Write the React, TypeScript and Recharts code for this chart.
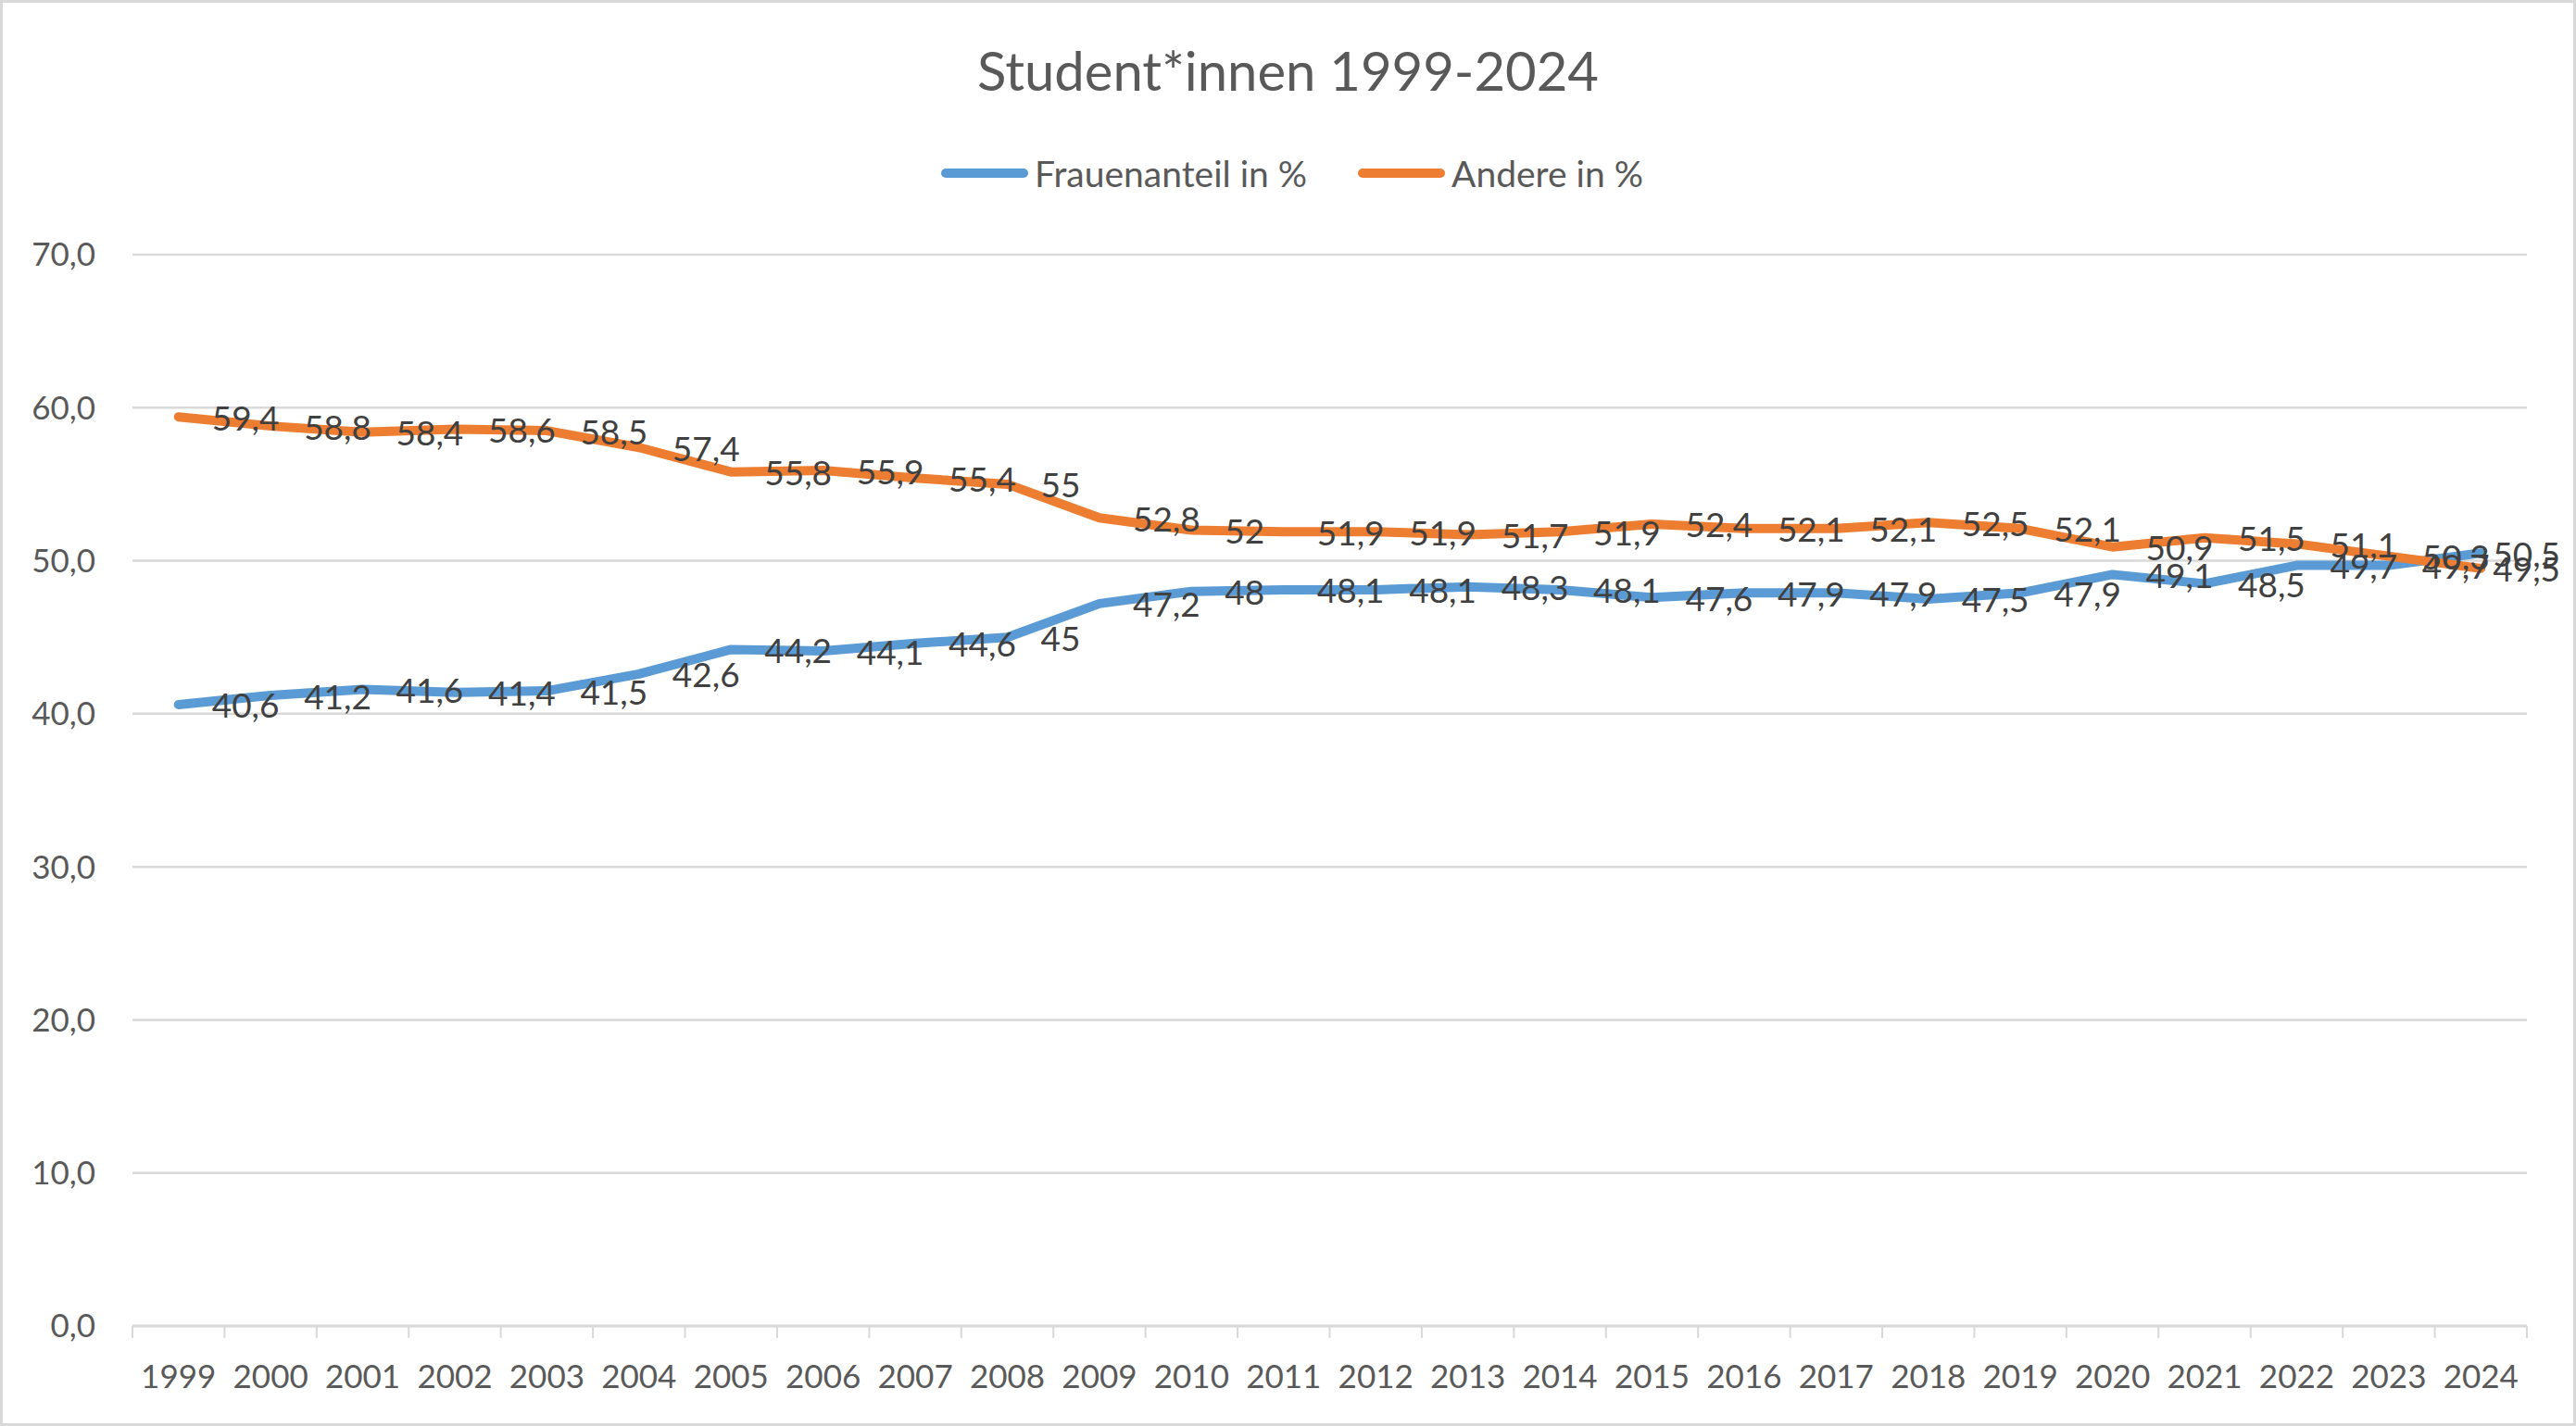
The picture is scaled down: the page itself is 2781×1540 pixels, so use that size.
import React from 'react';
import { LineChart, Line, XAxis, YAxis, CartesianGrid, Legend, LabelList } from 'recharts';

// Studierende nach Geschlecht, Anteile in %
const years = [
  '1999', '2000', '2001', '2002', '2003', '2004', '2005', '2006', '2007',
  '2008', '2009', '2010', '2011', '2012', '2013', '2014', '2015', '2016',
  '2017', '2018', '2019', '2020', '2021', '2022', '2023', '2024',
];
const frauenanteil = [
  40.6, 41.2, 41.6, 41.4, 41.5, 42.6, 44.2, 44.1, 44.6, 45, 47.2, 48, 48.1,
  48.1, 48.3, 48.1, 47.6, 47.9, 47.9, 47.5, 47.9, 49.1, 48.5, 49.7, 49.7, 50.5,
];
const andere = [
  59.4, 58.8, 58.4, 58.6, 58.5, 57.4, 55.8, 55.9, 55.4, 55, 52.8, 52, 51.9,
  51.9, 51.7, 51.9, 52.4, 52.1, 52.1, 52.5, 52.1, 50.9, 51.5, 51.1, 50.3, 49.5,
];
const yTicks = [0, 10, 20, 30, 40, 50, 60, 70];

const data = years.map((year, i) => ({
  year,
  frauen: frauenanteil[i],
  andere: andere[i],
}));

const W = 2781;
const H = 1540;
const PLOT_LEFT = 143;
const PLOT_RIGHT = 2728;
const BAND = (PLOT_RIGHT - PLOT_LEFT) / years.length;

const FONT = 'Lato, "Open Sans", sans-serif';
const AXIS_TEXT = '#595959';
const LABEL_TEXT = '#404040';
const GRID = '#D9D9D9';
const BLUE = '#5B9BD5';
const ORANGE = '#ED7D31';

const comma = (v: number) => String(v).replace('.', ',');

function XTick(props: any) {
  const { x, y, payload, index } = props;
  const half = BAND / 2;
  return (
    <g>
      <line x1={x - half} x2={x - half} y1={y} y2={y + 13} stroke={GRID} strokeWidth={2} />
      {index === years.length - 1 && (
        <line x1={x + half} x2={x + half} y1={y} y2={y + 13} stroke={GRID} strokeWidth={2} />
      )}
      <text
        x={x}
        y={y + 53}
        textAnchor="middle"
        dominantBaseline="central"
        fontSize={35}
        fontFamily={FONT}
        fill={AXIS_TEXT}
      >
        {payload.value}
      </text>
    </g>
  );
}

// Excel puts labels to the right of the point; the last one is pulled back inside the frame
function PointLabel(props: any) {
  const { x, y, value, index } = props;
  const last = index === years.length - 1;
  return (
    <text
      x={last ? W - 17 : x + 36}
      y={y}
      textAnchor={last ? 'end' : 'start'}
      dominantBaseline="central"
      fontSize={37}
      fontFamily={FONT}
      fill={LABEL_TEXT}
    >
      {comma(value)}
    </text>
  );
}

function LegendContent() {
  const item = (color: string, text: string) => (
    <div style={{ display: 'flex', alignItems: 'center' }}>
      <div style={{ width: 94, height: 10, borderRadius: 5, background: color, marginRight: 7 }} />
      <span style={{ fontSize: 39, color: AXIS_TEXT, fontFamily: FONT }}>{text}</span>
    </div>
  );
  return (
    <div style={{ height: 115, display: 'flex', justifyContent: 'center', alignItems: 'flex-start' }}>
      <div style={{ display: 'flex', height: 54, alignItems: 'center', gap: 55, marginLeft: 62 }}>
        {item(BLUE, 'Frauenanteil in %')}
        {item(ORANGE, 'Andere in %')}
      </div>
    </div>
  );
}

export default function App() {
  return (
    <div style={{ position: 'absolute', left: 0, top: 0, width: W, height: H, background: '#fff' }}>
      <LineChart
        width={W}
        height={H}
        data={data}
        margin={{ top: 160, right: W - PLOT_RIGHT, bottom: 0, left: 0 }}
      >
        <CartesianGrid vertical={false} stroke={GRID} strokeWidth={2.5} />
        <XAxis
          dataKey="year"
          scale="band"
          interval={0}
          height={108}
          tickSize={0}
          tickMargin={0}
          tickLine={false}
          axisLine={{ stroke: GRID, strokeWidth: 3 }}
          tick={<XTick />}
        />
        <YAxis
          width={PLOT_LEFT}
          domain={[0, 70]}
          ticks={yTicks}
          tickFormatter={(v: number) => v.toFixed(1).replace('.', ',')}
          axisLine={false}
          tickLine={false}
          tickSize={0}
          tickMargin={40}
          tick={{ fontSize: 35, fontFamily: FONT, fill: AXIS_TEXT }}
        />
        <Legend verticalAlign="top" content={<LegendContent />} />
        <Line
          dataKey="frauen"
          name="Frauenanteil in %"
          stroke={BLUE}
          strokeWidth={10}
          strokeLinecap="round"
          strokeLinejoin="round"
          dot={false}
          activeDot={false}
          isAnimationActive={false}
        >
          <LabelList dataKey="frauen" content={<PointLabel />} />
        </Line>
        <Line
          dataKey="andere"
          name="Andere in %"
          stroke={ORANGE}
          strokeWidth={10}
          strokeLinecap="round"
          strokeLinejoin="round"
          dot={false}
          activeDot={false}
          isAnimationActive={false}
        >
          <LabelList dataKey="andere" content={<PointLabel />} />
        </Line>
      </LineChart>
      <svg
        width={W}
        height={H}
        style={{ position: 'absolute', left: 0, top: 0, pointerEvents: 'none' }}
      >
        <text
          x={W / 2}
          y={98}
          textAnchor="middle"
          fontSize={58}
          fontFamily={FONT}
          fill={AXIS_TEXT}
        >
          Student*innen 1999-2024
        </text>
        <rect x={1.5} y={1.5} width={W - 3} height={H - 3} fill="none" stroke={GRID} strokeWidth={3} />
      </svg>
    </div>
  );
}
